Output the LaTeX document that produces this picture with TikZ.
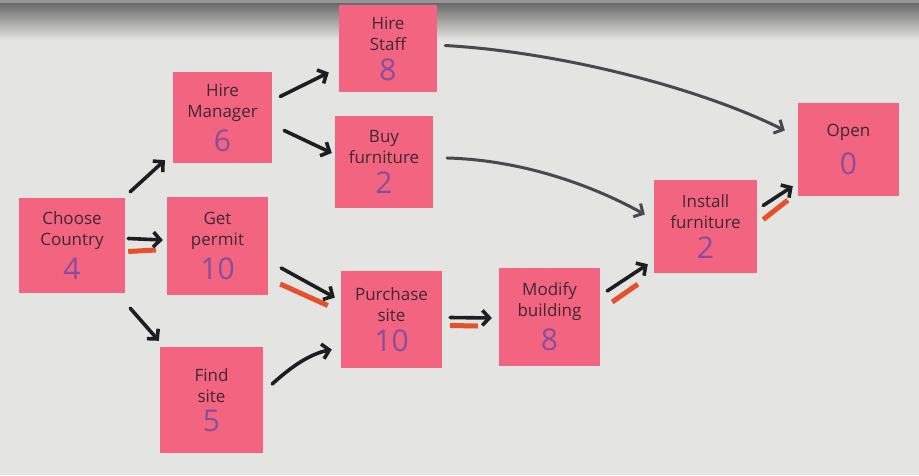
\documentclass[tikz,border=0pt]{standalone}
\usepackage{fontspec}
\setmainfont{Open Sans}
\usetikzlibrary{arrows.meta,calc}
\definecolor{board}{RGB}{228,228,226}
\definecolor{topband}{RGB}{105,105,105}
\definecolor{topline}{RGB}{150,150,150}
\definecolor{note}{RGB}{243,100,128}
\definecolor{ink}{RGB}{62,40,52}
\definecolor{numink}{RGB}{135,78,158}
\definecolor{marker}{RGB}{30,30,34}
\definecolor{greymark}{RGB}{72,72,78}
\definecolor{hl}{RGB}{230,80,42}
\newcommand\nm[1]{{\color{numink}\fontsize{30}{30}\selectfont #1}}
\begin{document}
\begin{tikzpicture}[x=1pt,y=-1pt,
  sticky/.style={fill=note, align=center, text=ink, inner sep=0pt,
    font=\fontsize{17}{21}\selectfont},
  arr/.style={draw=marker, line width=3.6pt, line cap=round,
    -{Straight Barb[length=7pt,width=15pt,line width=3.6pt]}},
  greyarr/.style={arr, draw=greymark, line width=3pt,
    -{Straight Barb[length=7pt,width=15pt,line width=3pt]}},
  hilite/.style={draw=hl, line width=5pt}]
\fill[board] (0,0) rectangle (919,475);
\shade[top color=topband, bottom color=board] (0,3) rectangle (919,40);
\fill[topline] (0,0) rectangle (919,3);
\useasboundingbox (0,0) rectangle (919,475);

% sticky notes
\node[sticky, minimum width=106pt, minimum height=95pt] (cc) at (72,245.5) {Choose\\Country\\[7pt]\nm{4}};
\node[sticky, minimum width=101pt, minimum height=98pt] (gp) at (217.5,246) {Get\\permit\\[7pt]\nm{10}};
\node[sticky, minimum width=99pt, minimum height=91pt] (hm) at (222.5,117.5) {Hire\\Manager\\[7pt]\nm{6}};
\node[sticky, minimum width=98pt, minimum height=87pt] (hs) at (388,48.5) {Hire\\Staff\\[7pt]\nm{8}};
\node[sticky, minimum width=98pt, minimum height=92pt] (bf) at (384,162) {Buy\\furniture\\[7pt]\nm{2}};
\node[sticky, minimum width=103pt, minimum height=106pt] (fs) at (211.5,400) {Find\\site\\[7pt]\nm{5}};
\node[sticky, minimum width=101pt, minimum height=97pt] (ps) at (391.5,319.5) {Purchase\\site\\[7pt]\nm{10}};
\node[sticky, minimum width=101pt, minimum height=98pt] (mb) at (549.5,317) {Modify\\building\\[7pt]\nm{8}};
\node[sticky, minimum width=103pt, minimum height=93pt] (inf) at (705.5,226.5) {Install\\furniture\\[7pt]\nm{2}};
\node[sticky, minimum width=101pt, minimum height=93pt] (op) at (848.5,149.5) {Open\\[12pt]\nm{0}};

% orange critical-path highlights
\draw[hilite] ([shift={(3,6)}]cc.east) -- ([shift={(-11,4)}]gp.west);
\draw[hilite] ([shift={(12,38)}]gp.east) -- ([shift={(-13,-14)}]ps.west);
\draw[hilite] ([shift={(8,6)}]ps.east) -- ([shift={(-21,9)}]mb.west);
\draw[hilite] ([shift={(12,-15)}]mb.east) -- ([shift={(-16,11)}]inf.south west);
\draw[hilite] ([shift={(6,-7)}]inf.east) -- ([shift={(-10,4)}]op.south west);

% marker arrows
\draw[arr] ([shift={(5,-6)}]cc.north east) -- ([shift={(-8,-3)}]hm.south west);
\draw[arr] ([shift={(3,-7)}]cc.east) -- ([shift={(-4,-6)}]gp.west);
\draw[arr] ([shift={(5,15)}]cc.south east) -- ([shift={(-1,-6)}]fs.north west);
\draw[arr] ([shift={(8,-21)}]hm.east) -- ([shift={(-10,24)}]hs.west);
\draw[arr] ([shift={(12,13)}]hm.east) -- ([shift={(-3,-9)}]bf.west);
\draw[arr] ([shift={(13,22)}]gp.east) -- ([shift={(-6,-22)}]ps.west);
\draw[arr] ([shift={(9,-16)}]fs.east) .. controls (292,366) and (310,354) .. ([shift={(-9,30)}]ps.west);
\draw[arr] ([shift={(8,-2)}]ps.east) -- ([shift={(-7,1)}]mb.west);
\draw[arr] ([shift={(7,-26)}]mb.east) -- ([shift={(-6,-9)}]inf.south west);
\draw[arr] ([shift={(6,-21)}]inf.east) -- ([shift={(-5,-10)}]op.south west);
\draw[greyarr] ([shift={(8,-3)}]hs.east) .. controls (560,52) and (700,88) .. ([shift={(-13,-19)}]op.west);
\draw[greyarr] ([shift={(14,-4)}]bf.east) .. controls (520,160) and (590,184) .. ([shift={(-9,-12)}]inf.west);
\end{tikzpicture}
\end{document}
